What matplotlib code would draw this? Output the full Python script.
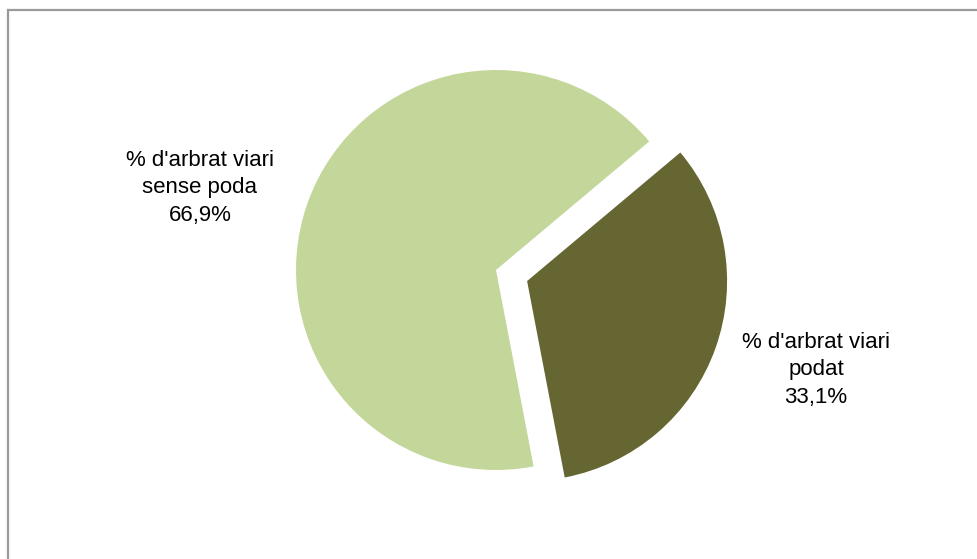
import matplotlib.pyplot as plt
from matplotlib.patches import Rectangle

labels = ["% d'arbrat viari\npodat", "% d'arbrat viari\nsense poda"]
values = [33.1, 66.9]
pct_text = ["33,1%", "66,9%"]
colors = ["#666633", "#C4D79B"]

W, H = 977, 559
fig = plt.figure(figsize=(W / 100, H / 100), dpi=100)
ax = fig.add_axes([0, 0, 1, 1])

# chart area border (only left and top visible in the original crop)
fig.patches.append(Rectangle((8 / W, -0.1), 1.2, (H - 10) / H + 0.1, transform=fig.transFigure,
                             fill=False, edgecolor="#9a9a9a", linewidth=1.6))

# explode is an absolute offset in data units (pixels here)
wedges, _ = ax.pie(values, colors=colors, startangle=40, counterclock=False,
                   explode=[33, 0], center=(496, H - 270), radius=200,
                   wedgeprops=dict(linewidth=0))
ax.set_xlim(0, W)
ax.set_ylim(0, H)
ax.set_aspect("equal")
ax.axis("off")

font = dict(family=["Liberation Sans", "DejaVu Sans"], fontsize=16, color="black",
            ha="center", va="center", linespacing=1.38)
ax.text(816, H - 370, labels[0] + "\n" + pct_text[0], **font)
ax.text(200, H - 188, labels[1] + "\n" + pct_text[1], **font)

fig.savefig("out.png", dpi=100)
